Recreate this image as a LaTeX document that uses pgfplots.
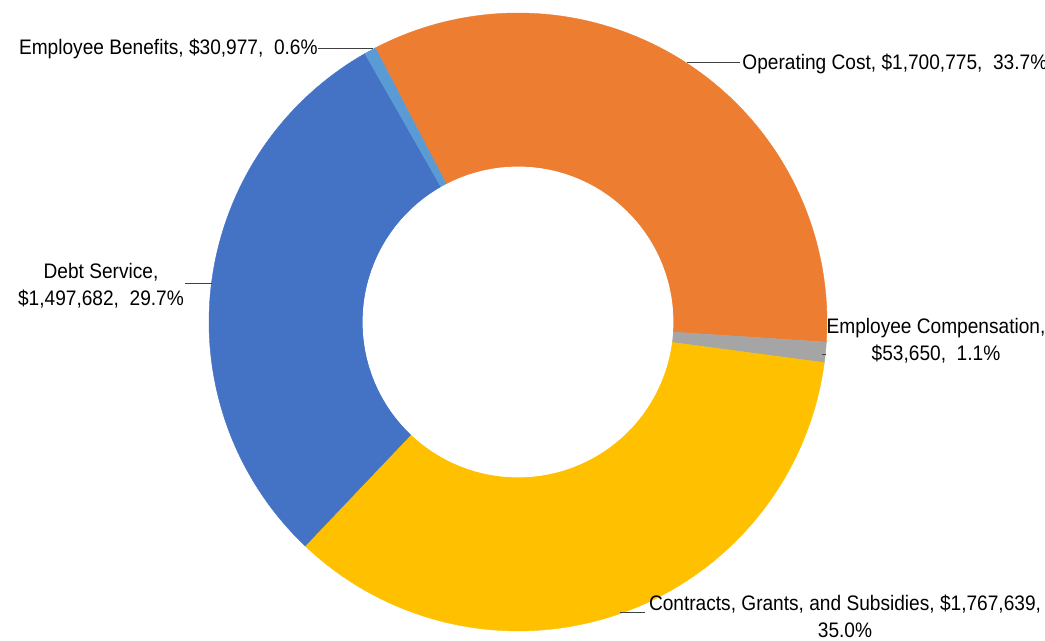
\documentclass[border=0pt]{standalone}
\usepackage{fontspec}
\setmainfont{Liberation Sans}[FakeStretch=0.91]
\usepackage{pgfplots}
\pgfplotsset{compat=1.18}

\definecolor{cOp}{HTML}{ED7D31}
\definecolor{cComp}{HTML}{A5A5A5}
\definecolor{cCon}{HTML}{FFC000}
\definecolor{cDebt}{HTML}{4472C4}
\definecolor{cBen}{HTML}{5B9BD5}

% spending by category, in dollars (clockwise from the first slice)
\def\vOp{1700775}
\def\vComp{53650}
\def\vCon{1767639}
\def\vDebt{1497682}
\def\vBen{30977}
\edef\total{\fpeval{\vOp+\vComp+\vCon+\vDebt+\vBen}}
% first slice starts 27.5 deg left of 12 o'clock
\edef\aA{117.5}
\edef\aB{\fpeval{\aA-360*\vOp/\total}}
\edef\aC{\fpeval{\aB-360*\vComp/\total}}
\edef\aD{\fpeval{\aC-360*\vCon/\total}}
\edef\aE{\fpeval{\aD-360*\vDebt/\total}}
\edef\aF{\fpeval{\aE-360*\vBen/\total}}

\tikzset{lbl/.style={font=\fontsize{10.5}{13.5}\selectfont, inner sep=0pt}}

\begin{document}
\begin{tikzpicture}
\begin{axis}[
  x=0.5pt, y=0.5pt,
  xmin=0, xmax=1045, ymin=0, ymax=641,
  anchor=origin, hide axis, clip=false,
  samples=90,
]
\addplot[fill=cOp,   draw=cOp,   line width=0.2pt, domain=\aB:\aA] ({518+309*cos(x)},{319+309*sin(x)}) -- (axis cs:518,319) -- cycle;
\addplot[fill=cComp, draw=cComp, line width=0.2pt, domain=\aC:\aB] ({518+309*cos(x)},{319+309*sin(x)}) -- (axis cs:518,319) -- cycle;
\addplot[fill=cCon,  draw=cCon,  line width=0.2pt, domain=\aD:\aC] ({518+309*cos(x)},{319+309*sin(x)}) -- (axis cs:518,319) -- cycle;
\addplot[fill=cDebt, draw=cDebt, line width=0.2pt, domain=\aE:\aD] ({518+309*cos(x)},{319+309*sin(x)}) -- (axis cs:518,319) -- cycle;
\addplot[fill=cBen,  draw=cBen,  line width=0.2pt, domain=\aF:\aE] ({518+309*cos(x)},{319+309*sin(x)}) -- (axis cs:518,319) -- cycle;
% hole
\addplot[fill=white, draw=white, domain=0:360, samples=120] ({518+155*cos(x)},{319+155*sin(x)}) -- cycle;

% leader lines
\draw[black!75, line width=0.5pt] (axis cs:318,592) -- (axis cs:373,592);
\draw[black!75, line width=0.5pt] (axis cs:687,578) -- (axis cs:740,578);
\draw[black!75, line width=0.5pt] (axis cs:822,286) -- (axis cs:826,286);
\draw[black!75, line width=0.5pt] (axis cs:185,357) -- (axis cs:212,357);
\draw[black!75, line width=0.5pt] (axis cs:620,28) -- (axis cs:645,28);

% data labels
\node[lbl, anchor=east] at (axis cs:318,592) {Employee Benefits, \$30,977, ~0.6\%};
\node[lbl, anchor=west] at (axis cs:742,577) {Operating Cost, \$1,700,775, ~33.7\%};
\node[lbl, align=center] at (axis cs:936,300) {Employee Compensation,\\\$53,650, ~1.1\%};
\node[lbl, align=center] at (axis cs:101,355) {Debt Service,\\\$1,497,682, ~29.7\%};
\node[lbl, align=center] at (axis cs:845,25) {Contracts, Grants, and Subsidies, \$1,767,639,\\35.0\%};

\coordinate (sw) at (axis cs:0,0);
\coordinate (ne) at (axis cs:1045,641);
\end{axis}
\pgfresetboundingbox
\useasboundingbox (sw) rectangle (ne);
\end{tikzpicture}
\end{document}
